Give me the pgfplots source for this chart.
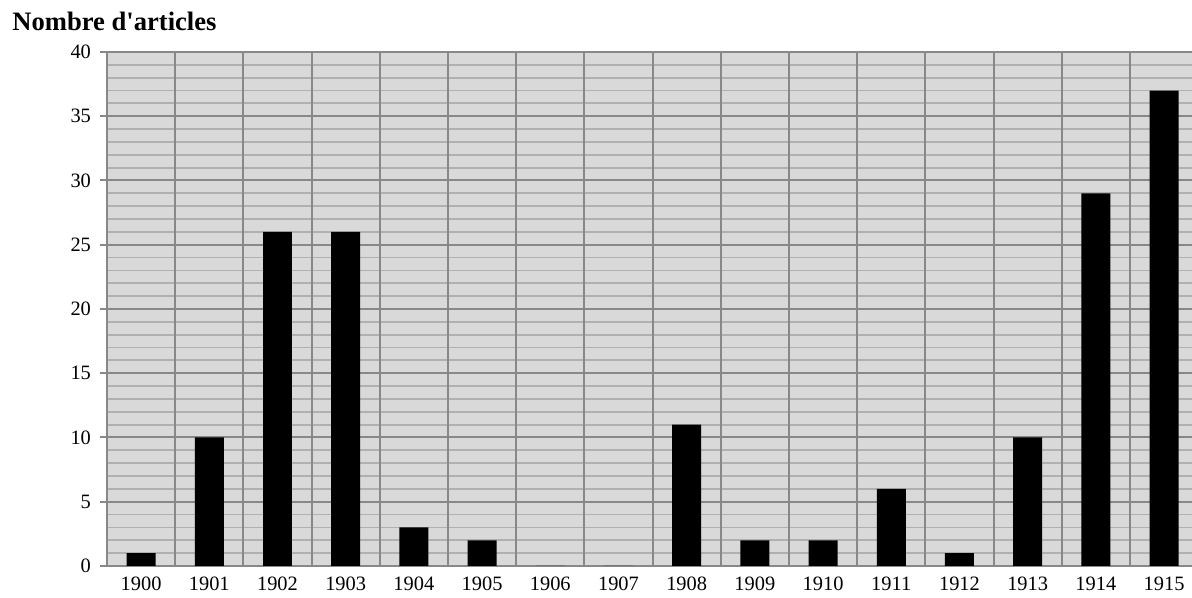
\documentclass[border=0pt]{standalone}
\usepackage{fontspec}
\setmainfont{Liberation Serif}[Ligatures=TeXOff]
\usepackage{pgfplots}
\pgfplotsset{compat=1.18}

\definecolor{plotbg}{HTML}{D9D9D9}
\definecolor{majgrid}{HTML}{888888}
\definecolor{mingrid}{HTML}{B0B0B0}

\begin{document}
\begin{tikzpicture}
\begin{axis}[
    name=ax,
    scale only axis,
    width=542.5pt, height=257pt,
    xmin=-0.5, xmax=15.41,
    ymin=0, ymax=40,
    axis lines*=left,
    axis line style={draw=majgrid, line width=1pt, -},
    axis background/.style={fill=plotbg},
    xtick={0,...,15},
    xticklabels={1900,1901,1902,1903,1904,1905,1906,1907,1908,1909,1910,1911,1912,1913,1914,1915},
    x tick style={draw=none},
    xmajorgrids=false,
    extra x ticks={-0.5,0.5,...,15.5},
    extra x tick labels={},
    extra x tick style={xmajorgrids=true, tick style={draw=majgrid, line width=1pt}},
    ytick={0,5,...,40},
    minor y tick num=4,
    ymajorgrids, yminorgrids,
    major grid style={draw=majgrid, line width=1pt},
    minor grid style={draw=mingrid, line width=0.9pt},
    y tick style={draw=majgrid, line width=1pt},
    minor tick length=0pt,
    major tick length=3.5pt,
    tick align=outside,
    tick label style={font=\fontsize{10.2}{12}\selectfont},
    /pgf/number format/assume math mode=true,
    xticklabel style={yshift=1.5pt},
    yticklabel style={xshift=-1pt},
    ybar, bar width=0.425, bar shift=0pt,
    clip=true,
]
\addplot[fill=black, draw=none] coordinates {
    (0,1) (1,10) (2,26) (3,26) (4,3) (5,2) (6,0) (7,0)
    (8,11) (9,2) (10,2) (11,6) (12,1) (13,10) (14,29) (15,37)
};
\end{axis}
\node[anchor=base west, inner xsep=0pt, font=\fontsize{13.3}{15}\selectfont\bfseries]
    at ([shift={(-47.5pt,10.5pt)}]ax.north west) {Nombre d'articles};
\pgfresetboundingbox
\path ([shift={(-53.5pt,-16pt)}]ax.south west) rectangle ([shift={(0pt,26pt)}]ax.north east);
\end{tikzpicture}
\end{document}
